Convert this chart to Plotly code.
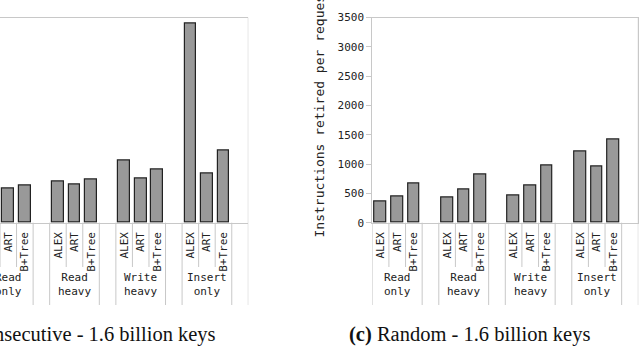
import plotly.graph_objects as go

W, H = 640, 352

structures = ["ALEX", "ART", "B+Tree"]
workloads = ["Read<br>only", "Read<br>heavy", "Write<br>heavy", "Insert<br>only"]

# Instructions retired per request
consec_alex = [560, 706, 1064, 3406]
consec_art = [587, 655, 750, 842]
consec_btree = [638, 740, 899, 1240]

random_alex = [358, 433, 472, 1223]
random_art = [443, 558, 631, 967]
random_btree = [665, 814, 984, 1411]

y_ticks = [0, 500, 1000, 1500, 2000, 2500, 3000, 3500]

MONO = "DejaVu Sans Mono"
SERIF = "Liberation Serif"
FRAME = "#c8c8c8"

def px_x(p):
    return p / W

def px_y(p):
    return 1 - p / H

y_dom = [px_y(222.7), px_y(17.5)]
left_dom = [0.0, px_x(248.3)]
right_dom = [px_x(372.3), px_x(638.3)]


def positions():
    xs, labels = [], []
    for g in range(len(workloads)):
        for j, s in enumerate(structures):
            xs.append(4 * g + j)
            labels.append(s)
    return xs, labels


def values(alex, art, btree):
    out = []
    for g in range(len(workloads)):
        out += [alex[g], art[g], btree[g]]
    return out


xs, labels = positions()
fig = go.Figure()

bar_style = dict(marker=dict(color="#999999", line=dict(color="#222222", width=1.2)),
                 width=0.7, showlegend=False, hoverinfo="skip")

fig.add_trace(go.Bar(x=xs, y=values(consec_alex, consec_art, consec_btree),
                     xaxis="x", yaxis="y", **bar_style))
fig.add_trace(go.Bar(x=xs, y=values(random_alex, random_art, random_btree),
                     xaxis="x2", yaxis="y2", **bar_style))

n_slots = 4 * len(workloads) - 1
xaxis_common = dict(tickvals=xs, ticktext=labels, tickangle=-90, automargin=False,
                    tickfont=dict(family=MONO, size=11, color="#222"),
                    ticks="outside", ticklen=4, tickcolor="rgba(0,0,0,0)",
                    showline=True, linecolor=FRAME, linewidth=1, mirror=True,
                    showgrid=False, zeroline=False, fixedrange=True)

fig.update_layout(
    width=W, height=H, margin=dict(l=0, r=0, t=0, b=0, pad=0),
    paper_bgcolor="white", plot_bgcolor="white",
    bargap=0,
    xaxis=dict(domain=left_dom, range=[0.5, n_slots + 0.5], anchor="y", **xaxis_common),
    yaxis=dict(domain=y_dom, range=[0, 3500], anchor="x", showline=False, automargin=False,
               showticklabels=False, ticks="", showgrid=False, zeroline=False),
    xaxis2=dict(domain=right_dom, range=[-0.5, n_slots + 0.5], anchor="y2", **xaxis_common),
    yaxis2=dict(domain=y_dom, range=[0, 3500], anchor="x2", tickvals=y_ticks, automargin=False,
                ticks="outside", ticklen=5, tickcolor=FRAME,
                tickfont=dict(family=MONO, size=11, color="#222"),
                showline=True, linecolor=FRAME, linewidth=1, mirror=True,
                showgrid=False, zeroline=False),
)

short_bottom = px_y(267)
long_bottom = px_y(305)
shapes = []
annotations = []
for xr, start in (("x", 0), ("x2", -1)):
    for k in range(start, n_slots + 1):
        b = k + 0.5
        within = (k % 4) in (0, 1)
        top = y_dom[1] if b == n_slots + 0.5 else y_dom[0]
        shapes.append(dict(type="line", xref=xr, yref="paper", x0=b, x1=b,
                           y0=top, y1=short_bottom if within else long_bottom,
                           line=dict(color=FRAME, width=1)))
    for g, w in enumerate(workloads):
        annotations.append(dict(xref=xr, yref="paper", x=4 * g + 1, y=px_y(269),
                                text=w, showarrow=False, xanchor="center", yanchor="top",
                                font=dict(family=MONO, size=11, color="#222")))

annotations.append(dict(xref="paper", yref="paper", x=px_x(318.5), y=px_y(113),
                        text="Instructions retired per request", textangle=-90,
                        showarrow=False, xanchor="center", yanchor="middle",
                        font=dict(family=MONO, size=13, color="#222")))
annotations.append(dict(xref="paper", yref="paper", x=px_x(218), y=px_y(334),
                        text="<b>(b)</b> Consecutive - 1.6 billion keys",
                        showarrow=False, xanchor="right", yanchor="middle",
                        font=dict(family=SERIF, size=20.5, color="#111")))
annotations.append(dict(xref="paper", yref="paper", x=px_x(469.7), y=px_y(334),
                        text="<b>(c)</b> Random - 1.6 billion keys",
                        showarrow=False, xanchor="center", yanchor="middle",
                        font=dict(family=SERIF, size=20.5, color="#111")))

fig.update_layout(shapes=shapes, annotations=annotations)
fig.write_html("out.html", config={"displayModeBar": False},
               post_script="document.body.style.margin='0';document.body.style.overflow='hidden';")
